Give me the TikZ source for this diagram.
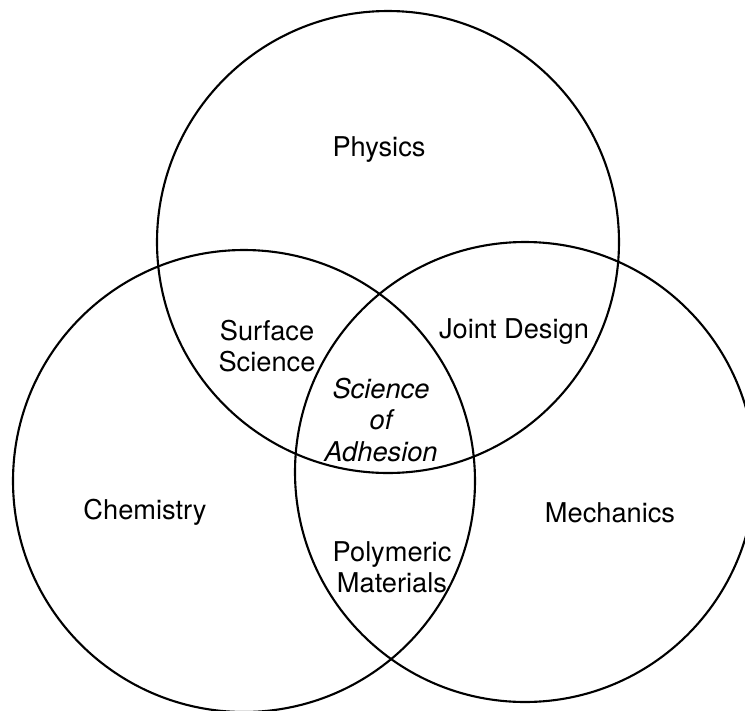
\documentclass[tikz,border=0pt]{standalone}
\usepackage{fontspec}
\setmainfont{TeX Gyre Heros}
\usetikzlibrary{positioning}
\tikzset{font=\fontsize{15.5}{17.5}\selectfont}
\tikzset{every node/.append style={align=center, inner sep=0pt}}
\tikzset{ring/.style={line width=1.2pt}}
\begin{document}
\begin{tikzpicture}[x=.02cm, y=-.02cm]
\useasboundingbox (0,0) rectangle (745,711);
\begin{scope}
  \clip (0,0) rectangle (745,711);
  \draw[ring] (388,242) circle [radius=231];  % physics
  \draw[ring] (244,481) circle [radius=231];  % chemistry
  \draw[ring] (525,472) circle [radius=230];  % mechanics
\end{scope}
\node (phys) at (379,150) {Physics};
\node (chem) at (145,512) {Chemistry};
\node (mech) at (610,513) {Mechanics};
\node (surf) at (267,346) {Surface\\Science};
\node (joint) at (514,332) {Joint Design};
\node (poly) at (392,567) {Polymeric\\Materials};
\node[font=\fontsize{15.5}{18}\selectfont\itshape] (adh) at (381,420) {Science\\of\\Adhesion};
\end{tikzpicture}
\end{document}
